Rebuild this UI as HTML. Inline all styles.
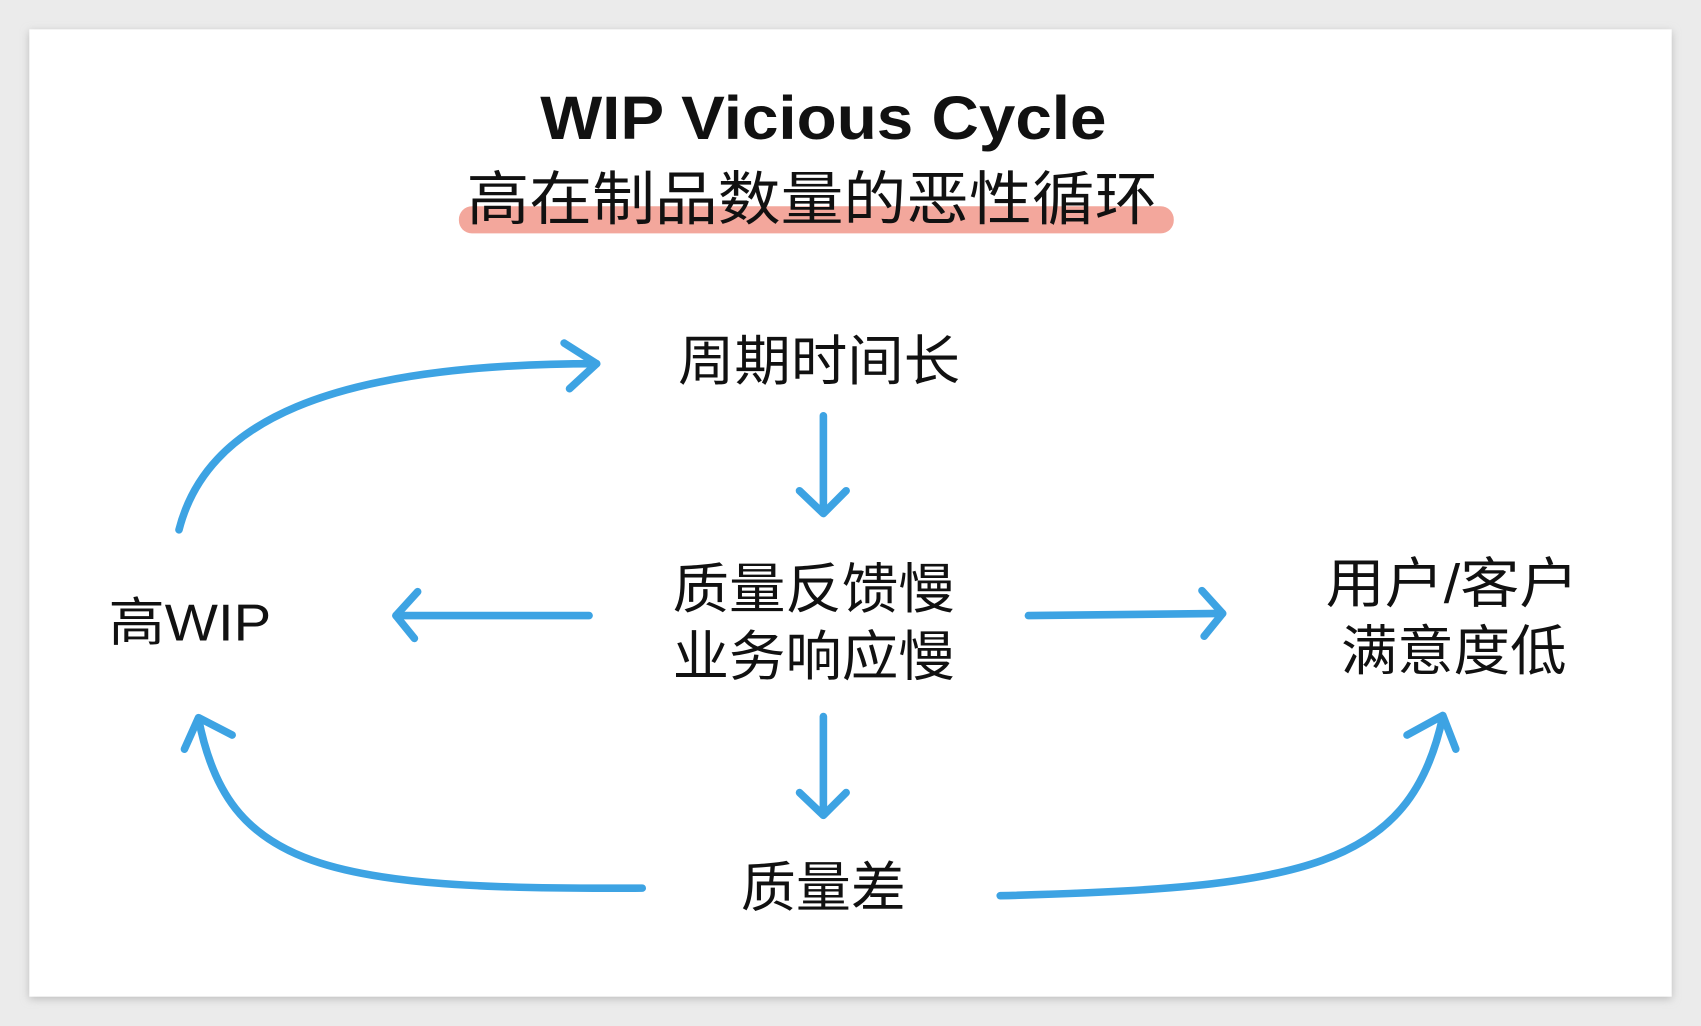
<!DOCTYPE html>
<html><head><meta charset="utf-8"><style>
html,body{margin:0;padding:0;background:#e9e9e9;width:1701px;height:1026px;overflow:hidden}
svg{display:block}
text{font-family:"Liberation Sans","Noto Sans CJK SC",sans-serif;fill:#111}
</style></head><body>
<svg width="1701" height="1026" viewBox="0 0 1568 945" preserveAspectRatio="none" xmlns="http://www.w3.org/2000/svg">
<defs><filter id="sh" x="-5%" y="-5%" width="110%" height="110%"><feGaussianBlur stdDeviation="4"/></filter></defs>
<rect x="0" y="0" width="1568" height="945" fill="#ebebeb"/>
<rect x="27" y="29" width="1514" height="891" fill="#bbb" filter="url(#sh)"/>
<rect x="27" y="27" width="1514" height="891" fill="#fff"/>
<rect x="423" y="190" width="659" height="25" rx="12" fill="#f3a79c"/>
<text x="498" y="128" font-size="56" font-weight="bold" textLength="522" lengthAdjust="spacingAndGlyphs">WIP Vicious Cycle</text>
<text x="430" y="202" font-size="54" textLength="637" lengthAdjust="spacingAndGlyphs">高在制品数量的恶性循环</text>
<text x="625" y="350" font-size="50" textLength="260" lengthAdjust="spacingAndGlyphs">周期时间长</text>
<text x="620" y="560" font-size="50" textLength="260" lengthAdjust="spacingAndGlyphs">质量反馈慢</text>
<text x="620" y="622" font-size="50" textLength="260" lengthAdjust="spacingAndGlyphs">业务响应慢</text>
<text x="100" y="590" font-size="48" textLength="150" lengthAdjust="spacingAndGlyphs">高WIP</text>
<text x="1222" y="555" font-size="50" textLength="233" lengthAdjust="spacingAndGlyphs">用户/客户</text>
<text x="1236" y="617" font-size="50" textLength="208" lengthAdjust="spacingAndGlyphs">满意度低</text>
<text x="683" y="835" font-size="50" textLength="152" lengthAdjust="spacingAndGlyphs">质量差</text>
<g stroke="#3da3e3" stroke-width="7" fill="none" stroke-linecap="round" stroke-linejoin="round">
<path d="M165,488 C190,390 300,335 550,335"/>
<path d="M520,316 L550,335 L525,358"/>
<path d="M759,383 L759,472"/><path d="M737,452 L759,473 L780,452"/>
<path d="M543,567 L365,567"/><path d="M385,545 L365,567 L382,588"/>
<path d="M948,567 L1127,565"/><path d="M1108,544 L1127,565 L1110,586"/>
<path d="M759,660 L759,750"/><path d="M737,730 L759,751 L780,730"/>
<path d="M592,818 C300,820 210,800 183,662"/><path d="M170,690 L183,661 L214,677"/>
<path d="M922,825 C1200,818 1300,800 1330,660"/><path d="M1297,677 L1330,659 L1342,690"/>
</g>
</svg>
</body></html>
